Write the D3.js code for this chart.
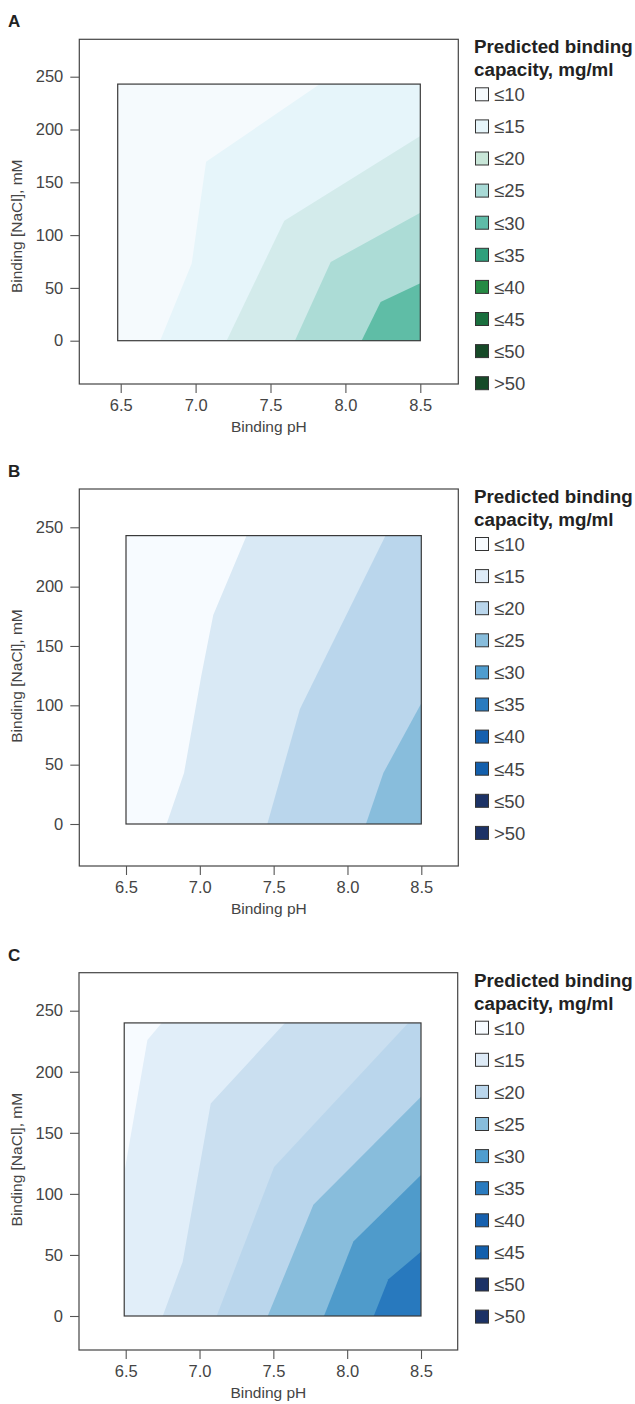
<!DOCTYPE html>
<html>
<head>
<meta charset="utf-8">
<script src="https://cdn.jsdelivr.net/npm/d3@7"></script>
<style>
  body { margin:0; background:#fff; }
  text { font-family: "Liberation Sans", Arial, sans-serif; }
</style>
</head>
<body>
<svg id="chart" width="635" height="1404"></svg>
<script>
// ---- data ----
var phTicks = [6.5, 7.0, 7.5, 8.0, 8.5];
var naclTicks = [0, 50, 100, 150, 200, 250];
var legendLabels = ["≤10","≤15","≤20","≤25","≤30","≤35","≤40","≤45","≤50",">50"];

var legendGreen = ["#f5fafd","#e6f5fa","#c8e6d8","#a8dad6","#5fbca8","#2fa07c","#258a44","#1a6f3e","#164a28","#164a28"];
var legendBlue  = ["#f7fbff","#deebf7","#bad6ec","#88bddc","#4f9dcf","#2a7bbf","#1660ae","#135fac","#1c3266","#1c3266"];

// measured grid extent (pH, mM)
var gridPhA = [6.48, 8.5],  gridNaclA = [0, 243];
var gridPhB = [6.5, 8.5],   gridNaclB = [0, 243];
var gridPhC = [6.49, 8.5],  gridNaclC = [0, 240];

// contour boundaries, [pH, NaCl mM], from low to high capacity
var contoursA = [
  [[6.763,0],[6.974,73],[7.07,169.5],[7.83,243]],
  [[7.207,0],[7.592,113.6],[8.5,193.8]],
  [[7.663,0],[7.902,74.5],[8.5,121.2]],
  [[8.108,0],[8.235,36.6],[8.5,54.3]]
];
var contoursB = [
  [[6.775,0],[6.893,43],[7.01,125],[7.091,176],[7.317,243]],
  [[7.457,0],[7.678,97],[8.258,243]],
  [[8.125,0],[8.243,43],[8.5,101.7]]
];
var contoursC = [
  [[6.49,117],[6.647,226],[6.744,240]],
  [[6.751,0],[6.886,44.5],[7.076,174],[7.579,240]],
  [[7.116,0],[7.505,122],[8.414,240]],
  [[7.462,0],[7.771,91],[8.5,179.6]],
  [[7.843,0],[8.042,61],[8.5,115.4]],
  [[8.18,0],[8.279,30],[8.5,52.7]]
];
var fillsA = ["#f5fafd","#e6f5fa","#d3ebeb","#acdcd6","#5fbda6"];
var fillsB = ["#f7fbff","#d9e9f5","#bad6ec","#88bddc"];
var fillsC = ["#f7fbff","#e1eef9","#cadff0","#bad6ec","#88bddc","#4f9bcb","#2879be"];

// ---- layout (pixels) ----
var panels = [
  {letter:"A", contours:contoursA, fills:fillsA, legend:legendGreen, gridPh:gridPhA, gridNacl:gridNaclA,
   x65:120.7, x85:420.3, y0:340.7, y250:76.7, frame:{l:79.3, r:458.3, t:39.3, b:384}},
  {letter:"B", contours:contoursB, fills:fillsB, legend:legendBlue, gridPh:gridPhB, gridNacl:gridNaclB,
   x65:126, x85:421.3, y0:824, y250:527.3, frame:{l:79.3, r:458.3, t:489, b:866}},
  {letter:"C", contours:contoursC, fills:fillsC, legend:legendBlue, gridPh:gridPhC, gridNacl:gridNaclC,
   x65:125.7, x85:421, y0:1316, y250:1010.7, frame:{l:79, r:457.7, t:972.7, b:1350}}
];

var svg = d3.select("#chart");

panels.forEach(function(p, i){
  var g = svg.append("g");
  var f = p.frame;

  var x = d3.scaleLinear().domain([6.5, 8.5]).range([p.x65, p.x85]);
  var y = d3.scaleLinear().domain([0, 250]).range([p.y0, p.y250]);

  var xmin = p.gridPh[0], xmax = p.gridPh[1], ymin = p.gridNacl[0], ymax = p.gridNacl[1];

  g.append("clipPath").attr("id", "clip" + i)
   .append("rect")
   .attr("x", x(xmin)).attr("y", y(ymax))
   .attr("width", x(xmax) - x(xmin)).attr("height", y(ymin) - y(ymax));

  var plot = g.append("g").attr("clip-path", "url(#clip" + i + ")");

  // base level
  plot.append("rect")
    .attr("x", x(xmin)).attr("y", y(ymax))
    .attr("width", x(xmax) - x(xmin)).attr("height", y(ymin) - y(ymax))
    .attr("fill", p.fills[0]);

  var line = d3.line().x(function(d){return x(d[0])}).y(function(d){return y(d[1])});

  // each boundary: fill everything on its lower-right side
  p.contours.forEach(function(c, k){
    var pts = c.slice();
    var start = c[0], end = c[c.length - 1];
    if (end[1] >= ymax - 0.5) pts.push([xmax + 0.05, ymax + 5]);
    pts.push([xmax + 0.05, ymin - 5]);
    if (start[0] <= xmin + 0.02) pts.push([xmin - 0.05, ymin - 5]);
    plot.append("path")
      .attr("d", line(pts) + "Z")
      .attr("fill", p.fills[k + 1]);
  });

  // grid outline
  g.append("rect")
    .attr("x", x(xmin)).attr("y", y(ymax))
    .attr("width", x(xmax) - x(xmin)).attr("height", y(ymin) - y(ymax))
    .attr("fill", "none").attr("stroke", "#3a3a3a").attr("stroke-width", 1.2);

  // outer frame
  g.append("rect")
    .attr("x", f.l).attr("y", f.t)
    .attr("width", f.r - f.l).attr("height", f.b - f.t)
    .attr("fill", "none").attr("stroke", "#444").attr("stroke-width", 1.2);

  var xAxis = g.append("g")
    .attr("transform", "translate(0," + f.b + ")")
    .call(d3.axisBottom(x).tickValues(phTicks).tickFormat(d3.format(".1f")).tickSize(9).tickPadding(6));
  var yAxis = g.append("g")
    .attr("transform", "translate(" + f.l + ",0)")
    .call(d3.axisLeft(y).tickValues(naclTicks).tickSize(9).tickPadding(7));

  [xAxis, yAxis].forEach(function(a){
    a.select(".domain").remove();
    a.selectAll("line").attr("stroke", "#555").attr("stroke-width", 1.1);
    a.selectAll("text").attr("fill", "#444").style("font-size", "16.5px")
      .style("font-family", "'Liberation Sans', Arial, sans-serif");
  });

  g.append("text")
    .attr("x", (f.l + f.r) / 2).attr("y", f.b + 48)
    .attr("text-anchor", "middle").attr("fill", "#444").style("font-size", "15.5px")
    .text("Binding pH");

  g.append("text")
    .attr("transform", "translate(22," + (f.t + 187) + ") rotate(-90)")
    .attr("text-anchor", "middle").attr("fill", "#444").style("font-size", "15.5px")
    .text("Binding [NaCl], mM");

  g.append("text")
    .attr("x", 8).attr("y", f.t - 12)
    .attr("fill", "#222").style("font-size", "17px").style("font-weight", "bold")
    .text(p.letter);

  // legend
  var lg = g.append("g").attr("transform", "translate(474," + f.t + ")");
  lg.append("text").attr("x", 0).attr("y", 14)
    .attr("fill", "#222").style("font-size", "18.8px").style("font-weight", "bold")
    .text("Predicted binding");
  lg.append("text").attr("x", 0).attr("y", 37)
    .attr("fill", "#222").style("font-size", "18.8px").style("font-weight", "bold")
    .text("capacity, mg/ml");

  var items = lg.selectAll(".item").data(legendLabels).enter()
    .append("g").attr("class", "item")
    .attr("transform", function(d, j){ return "translate(0," + (55 + j * 32.1) + ")"; });
  items.append("rect")
    .attr("x", 1.5).attr("y", -6.5).attr("width", 13).attr("height", 13)
    .attr("fill", function(d, j){ return p.legend[j]; })
    .attr("stroke", "#333").attr("stroke-width", 1);
  items.append("text")
    .attr("x", 20).attr("y", 6.8)
    .attr("fill", "#444").style("font-size", "18.5px")
    .text(function(d){ return d; });
});
</script>
</body>
</html>
